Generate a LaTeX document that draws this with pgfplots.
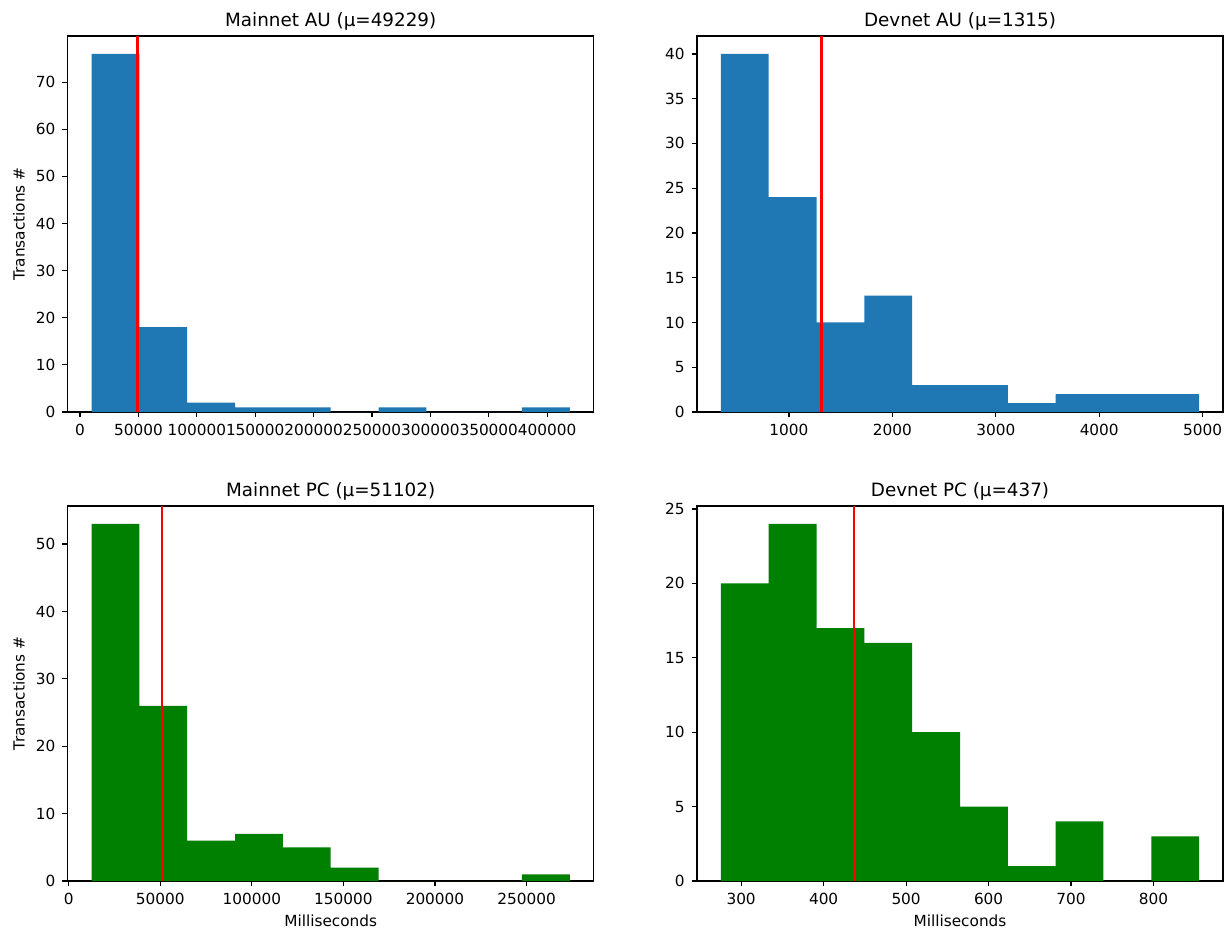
\documentclass[border=0pt]{standalone}
\usepackage{fontspec}
\setmainfont{DejaVu Sans}
\usepackage{pgfplots}
\pgfplotsset{compat=1.18}
\definecolor{mplblue}{RGB}{31,119,180}
\definecolor{mplgreen}{RGB}{0,128,0}
\definecolor{mplred}{RGB}{255,0,0}
\pgfplotsset{
  every axis title shift=0pt,
  hist/.style={
    scale only axis, width=263pt,
    axis line style={line width=0.61pt, black},
    every tick/.style={line width=0.61pt, black},
    tick align=outside, major tick length=2.67pt, tick pos=left,
    enlargelimits=false, ymin=0,
    scaled ticks=false,
    ticklabel style={font=\fontsize{7.65pt}{9pt}\selectfont, text=black},
    xticklabel style={/pgf/number format/.cd, fixed, 1000 sep={}},
    yticklabel style={/pgf/number format/.cd, fixed, 1000 sep={}},
    /pgf/number format/assume math mode=true,
    title style={font=\fontsize{9.17pt}{11pt}\selectfont, anchor=base, yshift=0pt, inner sep=0pt},
    label style={font=\fontsize{7.65pt}{9pt}\selectfont},
    xlabel style={anchor=base, yshift=0pt},
    ylabel style={anchor=base, xshift=0pt},
  }
}
\begin{document}
\begin{tikzpicture}
\path[use as bounding box] (0,0) rectangle (612.5pt,464pt);

% Mainnet AU
\begin{axis}[hist, height=188pt, at={(33.85pt,258pt)}, anchor=south west,
  title style={at={(axis description cs:0.5,1.0245)}},
  title={Mainnet AU (μ=49229)},
  ylabel={Transactions \#},
  ylabel style={at={(axis description cs:-0.0821,0.5)}},
  xmin=-10575, xmax=439875, ymax=79.8,
  xtick={0,50000,100000,150000,200000,250000,300000,350000,400000},
  ytick={0,10,20,30,40,50,60,70}]
\addplot[ybar interval, fill=mplblue, draw=none] coordinates {
(9900,76) (50850,18) (91800,2) (132750,1) (173700,1) (214650,0)
(255600,1) (296550,0) (337500,0) (378450,1) (419400,0)};
\addplot[mplred, line width=1.15pt] coordinates {(49229,0) (49229,79.8)};
\end{axis}

% Devnet AU
\begin{axis}[hist, height=188pt, at={(348.5pt,258pt)}, anchor=south west,
  title style={at={(axis description cs:0.5,1.0245)}},
  title={Devnet AU (μ=1315)},
  xmin=111, xmax=5197, ymax=42,
  xtick={1000,2000,3000,4000,5000},
  ytick={0,5,10,15,20,25,30,35,40}]
\addplot[ybar interval, fill=mplblue, draw=none] coordinates {
(342,40) (804.4,24) (1266.8,10) (1729.2,13) (2191.6,3) (2654,3)
(3116.4,1) (3578.8,2) (4041.2,2) (4503.6,2) (4966,0)};
\addplot[mplred, line width=1.15pt] coordinates {(1315,0) (1315,42)};
\end{axis}

% Mainnet PC
\begin{axis}[hist, height=187.5pt, at={(33.85pt,23.5pt)}, anchor=south west,
  title style={at={(axis description cs:0.5,1.0245)}},
  title={Mainnet PC (μ=51102)},
  xlabel={Milliseconds},
  ylabel={Transactions \#},
  xlabel style={at={(axis description cs:0.5,-0.1213)}},
  ylabel style={at={(axis description cs:-0.0821,0.5)}},
  xmin=-510, xmax=286656, ymax=55.65,
  xtick={0,50000,100000,150000,200000,250000},
  ytick={0,10,20,30,40,50}]
\addplot[ybar interval, fill=mplgreen, draw=none] coordinates {
(12543,53) (38649,26) (64755,6) (90861,7) (116967,5) (143073,2)
(169179,0) (195285,0) (221391,0) (247497,1) (273603,0)};
\addplot[mplred, line width=1.15pt] coordinates {(51102,0) (51102,55.65)};
\end{axis}

% Devnet PC
\begin{axis}[hist, height=187.5pt, at={(348.5pt,23.5pt)}, anchor=south west,
  title style={at={(axis description cs:0.5,1.0245)}},
  title={Devnet PC (μ=437)},
  xlabel={Milliseconds},
  xlabel style={at={(axis description cs:0.5,-0.1213)}},
  xmin=246.5, xmax=884.2, ymax=25.2,
  xtick={300,400,500,600,700,800},
  ytick={0,5,10,15,20,25}]
\addplot[ybar interval, fill=mplgreen, draw=none] coordinates {
(275.5,20) (333.47,24) (391.44,17) (449.41,16) (507.38,10) (565.35,5)
(623.32,1) (681.29,4) (739.26,0) (797.23,3) (855.2,0)};
\addplot[mplred, line width=1.15pt] coordinates {(437,0) (437,25.2)};
\end{axis}
\end{tikzpicture}
\end{document}
